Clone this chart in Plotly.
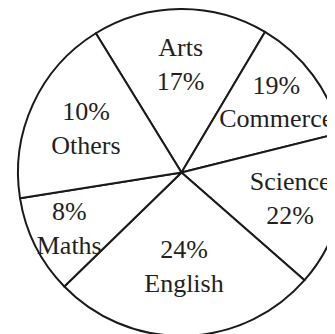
import plotly.graph_objects as go

# Subjects in clockwise order starting from the top (Arts)
subjects = ["Arts", "Commerce", "Science", "English", "Maths", "Others"]
# Percentages printed on the chart
percent_labels = [17, 19, 22, 24, 8, 10]
# Angular extent of each slice as drawn in the picture (degrees; the drawing is not to scale)
drawn_extent_deg = [62.3, 45.3, 55.2, 94.6, 35.1, 67.5]
# Whether the percentage is written above the name
pct_first = [False, True, False, True, True, True]

texts = []
for name, p, first in zip(subjects, percent_labels, pct_first):
    if first:
        texts.append(f"{p}%<br>{name}")
    else:
        texts.append(f"{name}<br>{p}%")

fig = go.Figure(
    go.Pie(
        labels=subjects,
        values=drawn_extent_deg,
        text=texts,
        textinfo="text",
        textposition="inside",
        insidetextorientation="horizontal",
        sort=False,
        direction="clockwise",
        rotation=-31.6,
        marker=dict(colors=["white"] * len(subjects), line=dict(color="#1a1a1a", width=2)),
        textfont=dict(family="Liberation Serif, Times New Roman, serif", size=26, color="#231f20"),
        showlegend=False,
        hoverinfo="skip",
    )
)

fig.update_layout(
    width=337,
    height=328,
    margin=dict(l=10, r=0, t=1, b=0),
    paper_bgcolor="white",
    plot_bgcolor="white",
    uniformtext=dict(minsize=26, mode="show"),
)

fig.write_html("out.html")
